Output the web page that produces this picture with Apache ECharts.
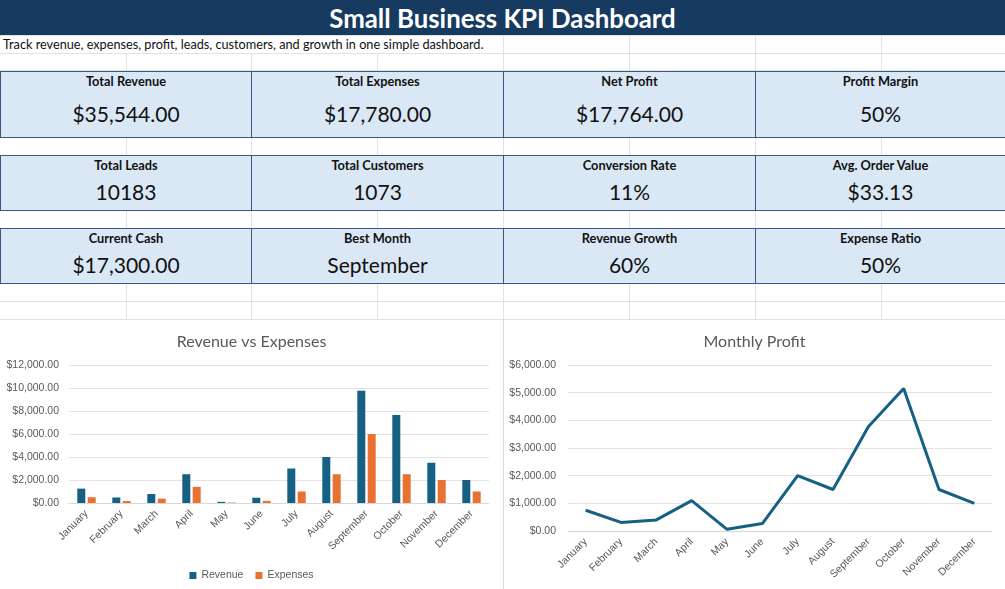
<!DOCTYPE html>
<html>
<head>
<meta charset="utf-8">
<script src="https://cdn.jsdelivr.net/npm/echarts@6/dist/echarts.min.js"></script>
<style>
  html,body{margin:0;padding:0;background:#fff;width:1005px;height:589px;overflow:hidden;}
  #sheet{position:absolute;left:0;top:0;width:1005px;height:589px;font-family:Lato,"Open Sans",sans-serif;}
  .hl{position:absolute;left:0;width:1005px;height:1px;background:#E2E2E2;}
  .vl{position:absolute;width:1px;background:#E2E2E2;}
  .box{position:absolute;background:#DAE8F6;border:1px solid #3B5585;box-sizing:border-box;text-align:center;color:#111;}
  .lab{position:absolute;left:0;right:0;font-weight:bold;font-size:12.8px;}
  .val{position:absolute;left:0;right:0;font-size:21px;}
  #c1{position:absolute;left:0;top:320px;width:503px;height:269px;}
  #c2{position:absolute;left:504px;top:320px;width:501px;height:269px;}
  #sep{position:absolute;left:503px;top:319px;width:1px;height:270px;background:#D9D9D9;}
  #ctop{position:absolute;left:0;top:319px;width:1005px;height:1px;background:#E2E2E2;}
</style>
</head>
<body>
<div id="sheet"></div>
<div id="ctop"></div>
<div id="sep"></div>
<div id="c1"></div>
<div id="c2"></div>
<script>
// ---- data ----
var months = ["January","February","March","April","May","June","July","August","September","October","November","December"];
var revenue = [1250, 480, 780, 2500, 100, 460, 3000, 4000, 9770, 7650, 3500, 2000];
var expenses = [500, 170, 380, 1400, 40, 190, 1000, 2500, 6000, 2500, 2000, 1000];
var profit = [750, 310, 400, 1100, 60, 270, 2000, 1500, 3770, 5150, 1500, 1000];
var kpiLabels = [
  ["Total Revenue","Total Expenses","Net Profit","Profit Margin"],
  ["Total Leads","Total Customers","Conversion Rate","Avg. Order Value"],
  ["Current Cash","Best Month","Revenue Growth","Expense Ratio"]
];
var kpiValues = [
  ["$35,544.00","$17,780.00","$17,764.00","50%"],
  ["10183","1073","11%","$33.13"],
  ["$17,300.00","September","60%","50%"]
];
var dashTitle = "Small Business KPI Dashboard";
var dashSubtitle = "Track revenue, expenses, profit, leads, customers, and growth in one simple dashboard.";

// ---- spreadsheet layout ----
var sheet = document.getElementById('sheet');
function add(cls, style, text){var d=document.createElement('div');d.className=cls;if(style)d.setAttribute('style',style);if(text!=null)d.textContent=text;sheet.appendChild(d);return d;}
var colX = [0,125.5,251,377,503,629,755,881];
[35,53,70,137,155,210,228,283,301].forEach(function(y){add('hl','top:'+y+'px');});
var gaps = [[35,53,[503,629,755,881]],[53,71,colX.slice(1)],[137,155,colX.slice(1)],[210,228,colX.slice(1)],[283,320,colX.slice(1)]];
gaps.forEach(function(g){g[2].forEach(function(x){add('vl','left:'+Math.round(x)+'px;top:'+g[0]+'px;height:'+(g[1]-g[0])+'px');});});

add('', 'position:absolute;left:0;top:0;width:1005px;height:35px;background:#173A60;color:#fff;font-weight:bold;font-size:25.8px;line-height:37px;text-align:center;', dashTitle);
add('', 'position:absolute;left:3px;top:35px;height:18px;line-height:19px;font-size:12.7px;color:#111;white-space:nowrap;', dashSubtitle);

var rows = [
  {top:71,h:67,labY:1,valY:29},
  {top:155,h:56,labY:1,valY:23},
  {top:228,h:56,labY:1,valY:23}
];
var boxX = [0,251,503,755,1005];
rows.forEach(function(r,ri){
  for(var c=0;c<4;c++){
    var left = boxX[c], w = boxX[c+1]-boxX[c]+1;
    var b = add('box','left:'+left+'px;top:'+r.top+'px;width:'+w+'px;height:'+r.h+'px;');
    var l=document.createElement('div');l.className='lab';l.style.top=r.labY+'px';l.textContent=kpiLabels[ri][c];b.appendChild(l);
    var v=document.createElement('div');v.className='val';v.style.top=r.valY+'px';v.textContent=kpiValues[ri][c];b.appendChild(v);
  }
});

// ---- charts ----
var axisFont = {color:'#595959', fontFamily:'"Liberation Sans",Arial,sans-serif', fontSize:10.5};
function money(v){return '$'+v.toLocaleString('en-US',{minimumFractionDigits:2,maximumFractionDigits:2});}

var ch1 = echarts.init(document.getElementById('c1'), null, {renderer:'canvas'});
ch1.setOption({
  animation:false,
  title:{text:'Revenue vs Expenses',left:'center',top:9,textStyle:{color:'#595959',fontFamily:'Lato,sans-serif',fontSize:16,fontWeight:'normal'}},
  legend:{bottom:3,left:'center',itemWidth:7,itemHeight:7,itemGap:12,icon:'rect',
    textStyle:{color:'#595959',fontFamily:'"Liberation Sans",Arial,sans-serif',fontSize:10.5},data:['Revenue','Expenses']},
  grid:{left:69,right:14,top:45,bottom:86},
  xAxis:{type:'category',data:months,axisTick:{show:false},
    axisLine:{lineStyle:{color:'#D9D9D9'}},
    axisLabel:Object.assign({rotate:45,interval:0,margin:9},axisFont)},
  yAxis:{type:'value',min:0,max:12000,interval:2000,axisLine:{show:false},axisTick:{show:false},
    splitLine:{lineStyle:{color:'#E3E3E3',width:1}},
    axisLabel:Object.assign({formatter:money,margin:10},axisFont)},
  series:[
    {name:'Revenue',type:'bar',data:revenue,barWidth:8,barGap:'30%',itemStyle:{color:'#166083'}},
    {name:'Expenses',type:'bar',data:expenses,barWidth:8,itemStyle:{color:'#E97132'}}
  ]
});

var ch2 = echarts.init(document.getElementById('c2'), null, {renderer:'canvas'});
ch2.setOption({
  animation:false,
  title:{text:'Monthly Profit',left:'center',top:9,textStyle:{color:'#595959',fontFamily:'Lato,sans-serif',fontSize:16,fontWeight:'normal'}},
  grid:{left:64,right:13,top:45,bottom:58},
  xAxis:{type:'category',data:months,axisTick:{show:false},
    axisLine:{lineStyle:{color:'#D9D9D9'}},
    axisLabel:Object.assign({rotate:45,interval:0,margin:9},axisFont)},
  yAxis:{type:'value',min:0,max:6000,interval:1000,axisLine:{show:false},axisTick:{show:false},
    splitLine:{lineStyle:{color:'#E3E3E3',width:1}},
    axisLabel:Object.assign({formatter:money,margin:12},axisFont)},
  series:[
    {name:'Profit',type:'line',data:profit,symbol:'none',lineStyle:{color:'#166083',width:3},itemStyle:{color:'#166083'}}
  ]
});
</script>
</body>
</html>
